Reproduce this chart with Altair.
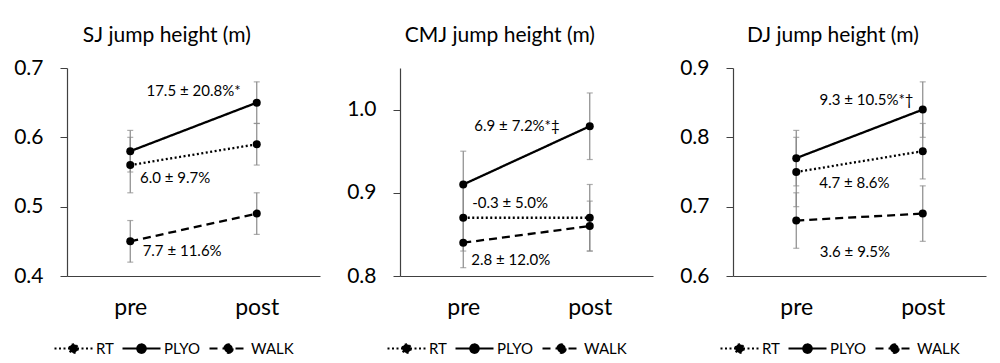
import altair as alt
import pandas as pd

FONT = "Lato"

groups = ["RT", "PLYO", "WALK"]
phases = ["pre", "post"]
titles = ["SJ jump height (m)", "CMJ jump height (m)", "DJ jump height (m)"]

# means (order RT, PLYO, WALK) and SD
sj_pre = [0.56, 0.58, 0.45]
sj_post = [0.59, 0.65, 0.49]
sj_pre_sd = [0.04, 0.03, 0.03]
sj_post_sd = [0.03, 0.03, 0.03]

cmj_pre = [0.87, 0.91, 0.84]
cmj_post = [0.87, 0.98, 0.86]
cmj_pre_sd = [0.04, 0.04, 0.03]
cmj_post_sd = [0.04, 0.04, 0.03]

dj_pre = [0.75, 0.77, 0.68]
dj_post = [0.78, 0.84, 0.69]
dj_pre_sd = [0.05, 0.04, 0.04]
dj_post_sd = [0.04, 0.04, 0.04]

y_domains = [[0.4, 0.7], [0.8, 1.05], [0.6, 0.9]]
y_ticks = [[0.4, 0.5, 0.6, 0.7], [0.8, 0.9, 1.0], [0.6, 0.7, 0.8, 0.9]]

# change annotations (order RT, PLYO, WALK), positions in data units
sj_notes = ["6.0 ± 9.7%", "17.5 ± 20.8%*", "7.7 ± 11.6%"]
sj_note_x = [0.355, 0.50, 0.41]
sj_note_y = [0.542, 0.667, 0.436]

cmj_notes = ["-0.3 ± 5.0%", "6.9 ± 7.2%*‡", "2.8 ± 12.0%"]
cmj_note_x = [0.37, 0.425, 0.375]
cmj_note_y = [0.888, 0.980, 0.819]

dj_notes = ["4.7 ± 8.6%", "9.3 ± 10.5%*†", "3.6 ± 9.5%"]
dj_note_x = [0.46, 0.555, 0.464]
dj_note_y = [0.7345, 0.854, 0.6346]

dashes = [[2, 2.5], [1, 0], [8, 5]]
title_offsets = [11, 22, 11]

LEGEND_SYMBOL = ("M-2,0L2,0M0.45,0A0.45,0.45,0,1,1,-0.45,0"
                 "A0.45,0.45,0,1,1,0.45,0Z")


def panel(i, pre, post, pre_sd, post_sd, notes, nx, ny):
    rows = []
    for g, a, b, sa, sb in zip(groups, pre, post, pre_sd, post_sd):
        rows.append(dict(group=g, t=0, m=a, lo=a - sa, hi=a + sa))
        rows.append(dict(group=g, t=1, m=b, lo=b - sb, hi=b + sb))
    df = pd.DataFrame(rows)
    ndf = pd.DataFrame(dict(text=notes, x=nx, y=ny))

    xs = alt.Scale(domain=[-0.5, 1.5], nice=False, zero=False)
    ys = alt.Scale(domain=y_domains[i], nice=False, zero=False)
    label_expr = "[" + ",".join("'%s'" % p for p in phases) + "][datum.value]"
    x = alt.X("t:Q", scale=xs, title=None,
              axis=alt.Axis(values=[0, 1], labelExpr=label_expr, ticks=False,
                            grid=False, labelFontSize=23, labelFont=FONT,
                            labelColor="#000", labelPadding=20,
                            domainColor="#404040", domainWidth=1.2))
    y_axis = alt.Axis(values=y_ticks[i], format=".1f", grid=False, tickSize=7,
                      tickColor="#404040", domainColor="#404040", domainWidth=1.2,
                      labelFontSize=21, labelFont=FONT, labelColor="#000",
                      labelPadding=17)

    base = alt.Chart(df)
    err = base.mark_rule(color="#8a8a8a", strokeWidth=1.2).encode(
        x=x, y=alt.Y("lo:Q", scale=ys, axis=y_axis, title=None), y2="hi:Q")
    cap_lo = base.mark_tick(color="#8a8a8a", thickness=1.2, size=6,
                            orient="horizontal").encode(x=x, y=alt.Y("lo:Q", scale=ys))
    cap_hi = base.mark_tick(color="#8a8a8a", thickness=1.2, size=6,
                            orient="horizontal").encode(x=x, y=alt.Y("hi:Q", scale=ys))
    line = base.mark_line(color="black", strokeWidth=2.3).encode(
        x=x, y=alt.Y("m:Q", scale=ys),
        strokeDash=alt.StrokeDash(
            "group:N", scale=alt.Scale(domain=groups, range=dashes), sort=groups,
            legend=alt.Legend(title=None, orient="none", direction="horizontal",
                              legendX=-4, legendY=270, symbolType=LEGEND_SYMBOL,
                              symbolSize=361, symbolStrokeWidth=2,
                              symbolStrokeColor="black", symbolFillColor="black",
                              labelFontSize=15, labelFont=FONT, labelColor="#000",
                              labelOffset=12, columnPadding=4)))
    pts = base.mark_circle(size=64, color="black", opacity=1).encode(
        x=x, y=alt.Y("m:Q", scale=ys))
    txt = alt.Chart(ndf).mark_text(fontSize=15, font=FONT, color="#000",
                                   align="center", baseline="middle").encode(
        x=alt.X("x:Q", scale=xs), y=alt.Y("y:Q", scale=ys), text="text:N")

    return alt.layer(err, cap_lo, cap_hi, line, pts, txt).properties(
        width=253, height=208,
        title=alt.TitleParams(titles[i], fontSize=21, font=FONT, fontWeight="normal",
                              color="#000", frame="bounds", anchor="middle",
                              offset=title_offsets[i]))


p1 = panel(0, sj_pre, sj_post, sj_pre_sd, sj_post_sd, sj_notes, sj_note_x, sj_note_y)
p2 = panel(1, cmj_pre, cmj_post, cmj_pre_sd, cmj_post_sd, cmj_notes, cmj_note_x, cmj_note_y)
p3 = panel(2, dj_pre, dj_post, dj_pre_sd, dj_post_sd, dj_notes, dj_note_x, dj_note_y)

chart = alt.hconcat(p1, p2, p3, spacing=80, bounds="flush").resolve_scale(
    x="independent", y="independent", strokeDash="independent"
).resolve_legend(strokeDash="independent").configure_view(stroke=None).properties(
    padding={"left": 5, "top": 17, "right": 5, "bottom": 0}
)

chart.save("out.html", embed_options={"renderer": "svg", "actions": False})
